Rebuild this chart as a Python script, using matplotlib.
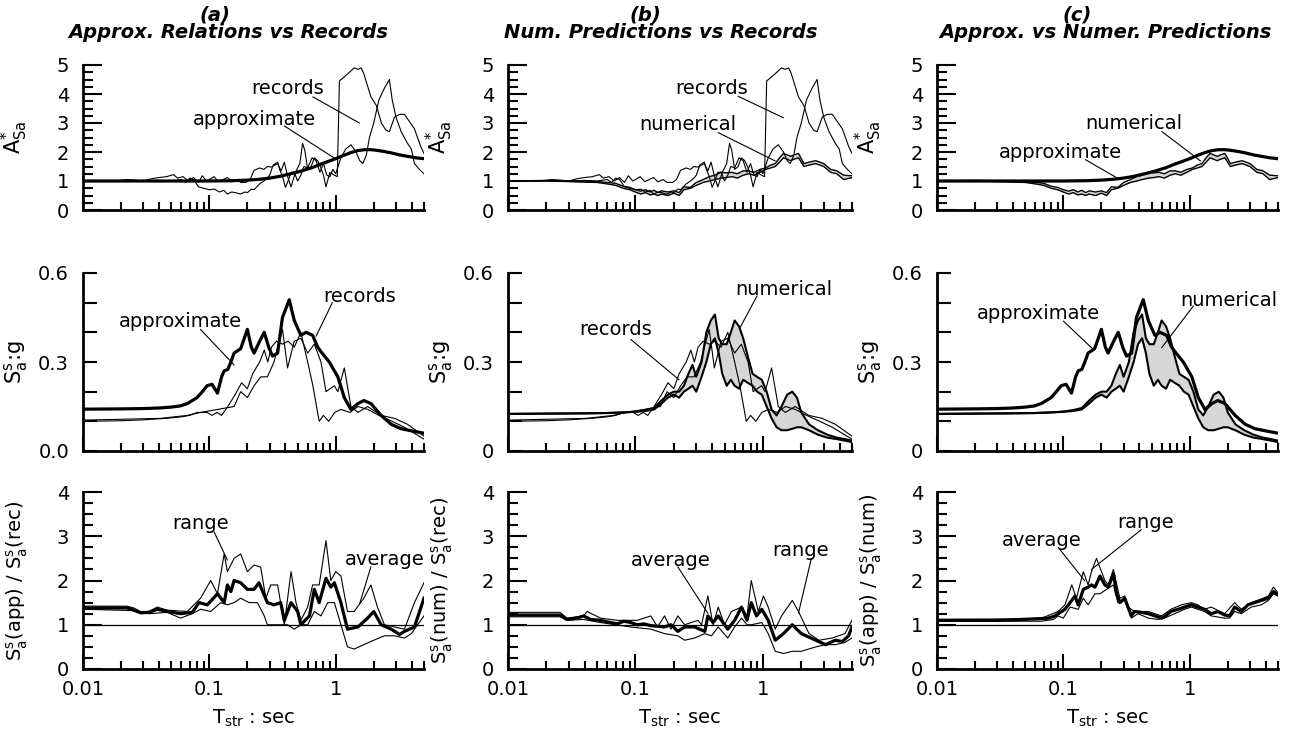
import matplotlib
matplotlib.use("Agg")
import matplotlib.pyplot as plt
from matplotlib.ticker import FixedLocator, NullFormatter, FixedFormatter

plt.rcParams["font.family"] = "DejaVu Sans"
plt.rcParams["mathtext.fontset"] = "dejavusans"

# ---------------- data ----------------
# top row: amplification A*_Sa
T_rec1_amp = [0.01, 0.018, 0.022, 0.026, 0.03, 0.035, 0.04, 0.046, 0.052, 0.056,
              0.062, 0.068, 0.075, 0.082, 0.088, 0.095, 0.1, 0.109, 0.118, 0.128,
              0.139, 0.15, 0.165, 0.177, 0.195, 0.21, 0.226, 0.25, 0.27, 0.288,
              0.31, 0.33, 0.347, 0.37, 0.392, 0.42, 0.443, 0.48, 0.52, 0.547,
              0.57, 0.6, 0.64, 0.677, 0.72, 0.765, 0.8, 0.838, 0.9, 0.976,
              1.03, 1.07, 1.25, 1.4, 1.5, 1.59, 1.67, 1.9, 2.1, 2.3,
              2.5, 2.66, 2.92, 3.2, 3.5, 4.2, 4.7, 5.0]
A_rec1 = [1.0, 1.0, 1.05, 1.03, 1.0, 1.08, 1.12, 1.15, 1.22, 1.1,
          1.15, 1.0, 1.12, 0.95, 1.18, 1.0, 1.05, 1.15, 0.98, 1.05,
          1.12, 0.97, 1.05, 0.95, 0.95, 1.05, 1.37, 1.45, 1.4, 1.5,
          1.48, 1.55, 1.6, 1.35, 1.65, 1.1, 0.8, 1.3, 1.6, 2.3,
          2.05, 1.4, 1.5, 1.8, 1.7, 1.45, 1.2, 0.8, 1.3, 1.2,
          1.15, 4.45, 4.7, 4.9, 4.85, 4.9, 4.7, 3.9, 3.6, 3.0,
          2.75, 2.7, 3.2, 3.3, 3.3, 2.8, 2.2, 1.95]

T_rec2_amp = [0.01, 0.02, 0.03, 0.04, 0.05, 0.06, 0.065, 0.07, 0.075, 0.082,
              0.09, 0.1, 0.11, 0.12, 0.13, 0.139, 0.15, 0.16, 0.177, 0.19,
              0.2, 0.215, 0.226, 0.25, 0.27, 0.288, 0.3, 0.32, 0.347, 0.36,
              0.38, 0.4, 0.42, 0.443, 0.47, 0.5, 0.53, 0.56, 0.6, 0.65,
              0.7, 0.75, 0.8, 0.85, 0.9, 0.95, 1.0, 1.1, 1.2, 1.32,
              1.45, 1.55, 1.64, 1.75, 1.85, 2.0, 2.2, 2.43, 2.66, 2.8,
              3.0, 3.3, 3.7, 3.97, 4.2, 4.6, 5.0]
A_rec2 = [1.0, 1.0, 1.0, 1.02, 1.0, 1.05, 0.95, 1.1, 1.05, 0.8,
          0.75, 0.7, 0.72, 0.62, 0.68, 0.55, 0.62, 0.6, 0.55, 0.62,
          0.6, 0.72, 0.7, 0.9, 1.0, 1.1, 1.2, 1.55, 1.65, 1.4,
          1.15, 0.78, 1.0, 1.3, 1.3, 1.0, 1.2, 1.5, 1.45, 1.8,
          1.7, 1.3, 1.6, 1.2, 1.15, 1.4, 1.25, 1.8, 2.1, 2.25,
          2.0, 1.7, 1.6, 1.9, 2.5, 3.0, 3.8, 4.2, 4.5, 3.8,
          3.2, 2.7, 2.3, 2.1, 1.6, 1.4, 1.25]

T_app_amp = [0.01, 0.05, 0.1, 0.15, 0.2, 0.25, 0.3, 0.36, 0.45, 0.53, 0.65, 0.76, 0.88,
             1.0, 1.15, 1.32, 1.5, 1.7, 1.9, 2.1, 2.4, 2.75, 3.2, 3.7, 4.3, 5.0]
A_app = [1.0, 1.0, 1.0, 1.01, 1.03, 1.06, 1.1, 1.16, 1.26, 1.34, 1.46, 1.58, 1.68,
         1.77, 1.88, 1.98, 2.05, 2.08, 2.08, 2.06, 2.02, 1.97, 1.9, 1.85, 1.8, 1.77]

T_num_amp = [0.01, 0.02, 0.03, 0.04, 0.05, 0.06, 0.07, 0.08, 0.09, 0.1,
             0.11, 0.12, 0.13, 0.14, 0.15, 0.16, 0.18, 0.2, 0.22, 0.24,
             0.27, 0.3, 0.34, 0.38, 0.42, 0.47, 0.52, 0.57, 0.63, 0.7,
             0.77, 0.85, 0.95, 1.05, 1.15, 1.25, 1.35, 1.45, 1.55, 1.65,
             1.75, 1.9, 2.1, 2.3, 2.6, 3.0, 3.4, 3.8, 4.3, 5.0]
A_num_lo = [1.0, 1.0, 0.98, 0.96, 0.95, 0.9, 0.85, 0.75, 0.7, 0.62,
            0.55, 0.6, 0.52, 0.55, 0.5, 0.55, 0.5, 0.58, 0.5, 0.7,
            0.75, 0.85, 0.95, 1.0, 1.05, 1.1, 1.12, 1.15, 1.1, 1.2,
            1.25, 1.2, 1.3, 1.4, 1.45, 1.5, 1.65, 1.8, 1.75, 1.7,
            1.75, 1.8, 1.5, 1.55, 1.6, 1.5, 1.3, 1.25, 1.05, 1.12]
A_num_hi = [1.0, 1.02, 1.0, 1.0, 0.98, 0.95, 0.92, 0.82, 0.78, 0.7,
            0.65, 0.7, 0.62, 0.68, 0.6, 0.66, 0.62, 0.66, 0.6, 0.8,
            0.78, 0.95, 1.05, 1.15, 1.2, 1.3, 1.28, 1.3, 1.25, 1.35,
            1.35, 1.3, 1.4, 1.45, 1.55, 1.6, 1.8, 1.95, 1.9, 1.85,
            1.9, 1.95, 1.6, 1.65, 1.7, 1.6, 1.4, 1.35, 1.2, 1.18]

# middle row: spectral acceleration Sa:g
T_rec1_sa = [0.01, 0.0252, 0.041, 0.067, 0.085, 0.116, 0.157, 0.177, 0.2, 0.226,
             0.255, 0.288, 0.325, 0.347, 0.379, 0.416, 0.47, 0.53, 0.6, 0.677,
             0.765, 0.838, 0.976, 1.04, 1.17, 1.32, 1.5, 1.79, 2.29, 2.92, 3.7, 5.0]
S_rec1 = [0.104, 0.108, 0.11, 0.12, 0.13, 0.14, 0.15, 0.2, 0.18, 0.22,
          0.25, 0.25, 0.3, 0.35, 0.41, 0.28, 0.37, 0.38, 0.33, 0.36,
          0.3, 0.2, 0.22, 0.2, 0.28, 0.15, 0.13, 0.15, 0.12, 0.11, 0.09, 0.05]

T_rec2_sa = [0.01, 0.02, 0.03, 0.045, 0.06, 0.07, 0.08, 0.096, 0.105, 0.115,
             0.125, 0.14, 0.16, 0.18, 0.2, 0.22, 0.25, 0.272, 0.29, 0.31,
             0.34, 0.38, 0.42, 0.47, 0.53, 0.6, 0.66, 0.74, 0.8, 0.88,
             0.98, 1.1, 1.3, 1.5, 1.8, 2.2, 2.8, 3.5, 5.0]
S_rec2 = [0.10, 0.102, 0.105, 0.11, 0.115, 0.12, 0.13, 0.13, 0.12, 0.13,
          0.12, 0.15, 0.19, 0.23, 0.21, 0.26, 0.30, 0.34, 0.30, 0.35,
          0.37, 0.36, 0.37, 0.35, 0.40, 0.30, 0.22, 0.10, 0.12, 0.10,
          0.13, 0.14, 0.13, 0.15, 0.14, 0.12, 0.10, 0.08, 0.04]

T_app_sa = [0.01, 0.02, 0.03, 0.04, 0.05, 0.059, 0.067, 0.08, 0.088, 0.096,
            0.105, 0.116, 0.125, 0.131, 0.14, 0.148, 0.157, 0.177, 0.2, 0.215,
            0.226, 0.25, 0.272, 0.295, 0.316, 0.347, 0.379, 0.429, 0.47, 0.53,
            0.582, 0.657, 0.72, 0.78, 0.89, 1.04, 1.17, 1.32, 1.5, 1.67,
            1.9, 2.29, 2.75, 3.3, 3.97, 5.0]
S_app = [0.141, 0.142, 0.143, 0.145, 0.148, 0.152, 0.16, 0.18, 0.2, 0.22,
         0.225, 0.195, 0.25, 0.27, 0.275, 0.3, 0.33, 0.345, 0.41, 0.35,
         0.33, 0.37, 0.40, 0.35, 0.32, 0.33, 0.45, 0.51, 0.44, 0.39,
         0.40, 0.39, 0.35, 0.33, 0.30, 0.25, 0.18, 0.14, 0.16, 0.17,
         0.16, 0.12, 0.09, 0.075, 0.068, 0.06]

T_num_sa = [0.01, 0.02, 0.04, 0.06, 0.08, 0.1, 0.12, 0.14, 0.16, 0.18,
            0.2, 0.22, 0.24, 0.26, 0.28, 0.3, 0.33, 0.36, 0.39, 0.42,
            0.45, 0.48, 0.52, 0.56, 0.6, 0.65, 0.7, 0.76, 0.83, 0.9,
            0.98, 1.07, 1.17, 1.28, 1.4, 1.55, 1.7, 1.85, 2.0, 2.3,
            2.7, 3.2, 3.8, 4.4, 5.0]
S_num_lo = [0.125, 0.126, 0.127, 0.128, 0.13, 0.132, 0.135, 0.14, 0.16, 0.18,
            0.19, 0.18, 0.2, 0.21, 0.22, 0.2, 0.25, 0.3, 0.36, 0.38,
            0.33, 0.26, 0.22, 0.24, 0.22, 0.21, 0.24, 0.23, 0.22, 0.2,
            0.19, 0.15, 0.11, 0.08, 0.07, 0.07, 0.075, 0.08, 0.08, 0.07,
            0.055, 0.045, 0.04, 0.035, 0.03]
S_num_hi = [0.125, 0.126, 0.127, 0.128, 0.13, 0.133, 0.138, 0.145, 0.17, 0.19,
            0.2, 0.2, 0.22, 0.26, 0.29, 0.25, 0.3, 0.4, 0.44, 0.46,
            0.38, 0.36, 0.36, 0.40, 0.44, 0.42, 0.38, 0.32, 0.26, 0.25,
            0.24, 0.2, 0.14, 0.12, 0.15, 0.19, 0.2, 0.18, 0.13, 0.09,
            0.07, 0.055, 0.045, 0.04, 0.035]

# bottom row: ratios (average and range)
T_avg_a = [0.01, 0.0223, 0.0252, 0.0285, 0.0332, 0.0387, 0.0464, 0.0592, 0.0733, 0.0828,
           0.0964, 0.116, 0.131, 0.139, 0.148, 0.157, 0.177, 0.2, 0.226, 0.247,
           0.288, 0.325, 0.367, 0.392, 0.443, 0.5, 0.53, 0.62, 0.677, 0.74,
           0.838, 0.915, 0.976, 1.1, 1.24, 1.5, 1.79, 2.0, 2.29, 2.75,
           3.2, 3.5, 4.2, 5.0]
R_avg_a = [1.38, 1.38, 1.33, 1.27, 1.28, 1.35, 1.3, 1.25, 1.28, 1.5,
           1.45, 1.7, 1.5, 1.9, 1.75, 2.0, 1.95, 1.8, 1.8, 1.95,
           1.5, 1.45, 1.5, 1.1, 1.5, 1.3, 1.0, 1.2, 1.8, 1.5,
           2.05, 1.85, 1.95, 1.5, 0.9, 0.95, 1.15, 1.3, 1.0, 0.9,
           0.78, 0.85, 0.95, 1.6]
T_hi_a = [0.01, 0.0223, 0.0252, 0.0285, 0.0332, 0.0387, 0.0464, 0.0669, 0.0852, 0.1025,
          0.116, 0.131, 0.139, 0.157, 0.177, 0.2, 0.226, 0.255, 0.28, 0.306,
          0.347, 0.392, 0.443, 0.485, 0.53, 0.6, 0.657, 0.74, 0.838, 0.915,
          1.0, 1.1, 1.24, 1.4, 1.67, 1.9, 2.14, 2.43, 2.92, 3.5, 4.2, 5.0]
R_hi_a = [1.42, 1.42, 1.38, 1.3, 1.3, 1.4, 1.33, 1.3, 1.6, 2.0,
          1.7, 2.6, 2.2, 2.5, 2.6, 2.2, 2.35, 2.3, 1.6, 1.9,
          1.9, 1.0, 2.2, 1.5, 1.1, 1.4, 1.9, 1.9, 2.9, 2.0,
          2.2, 2.1, 1.3, 1.3, 1.6, 1.9, 1.4, 1.0, 0.95, 0.9, 1.5, 1.95]
T_lo_a = [0.01, 0.0252, 0.0332, 0.0464, 0.0592, 0.0733, 0.0852, 0.1025, 0.123, 0.139,
          0.157, 0.177, 0.206, 0.24, 0.272, 0.288, 0.347, 0.416, 0.47, 0.53,
          0.6, 0.677, 0.765, 0.865, 0.976, 1.1, 1.24, 1.4, 1.67, 2.0,
          2.43, 2.92, 3.5, 3.97, 4.45, 5.0]
R_lo_a = [1.35, 1.32, 1.25, 1.28, 1.15, 1.25, 1.35, 1.3, 1.5, 1.45,
          1.5, 1.6, 1.5, 1.5, 1.2, 1.0, 1.0, 1.0, 0.9, 1.0,
          1.0, 1.3, 1.2, 1.5, 1.5, 1.0, 0.5, 0.45, 0.55, 0.65,
          0.75, 0.75, 0.7, 0.8, 1.0, 1.2]

T_avg_b = [0.01, 0.0256, 0.029, 0.0347, 0.0392, 0.0443, 0.0532, 0.0637, 0.072, 0.0813,
           0.0916, 0.1035, 0.117, 0.132, 0.169, 0.19, 0.215, 0.243, 0.291, 0.35,
           0.37, 0.406, 0.446, 0.53, 0.6, 0.68, 0.75, 0.81, 0.89, 0.98,
           1.1, 1.25, 1.45, 1.7, 2.0, 2.6, 3.1, 3.7, 4.2, 4.7, 5.0]
R_avg_b = [1.22, 1.22, 1.12, 1.15, 1.2, 1.12, 1.1, 1.05, 1.02, 1.08,
           1.05, 1.0, 1.02, 0.98, 0.95, 1.0, 0.85, 0.95, 0.95, 0.85,
           1.2, 1.05, 1.2, 0.9, 1.1, 1.4, 1.1, 1.5, 1.2, 1.35,
           1.1, 0.65, 0.8, 1.0, 0.8, 0.65, 0.55, 0.65, 0.62, 0.75, 0.95]
T_hi_b = [0.01, 0.0256, 0.029, 0.0392, 0.0417, 0.0532, 0.072, 0.1035, 0.132, 0.149,
          0.169, 0.19, 0.215, 0.243, 0.309, 0.33, 0.37, 0.406, 0.446, 0.5,
          0.566, 0.68, 0.75, 0.81, 0.92, 1.01, 1.1, 1.25, 1.4, 1.7,
          1.9, 2.3, 2.75, 3.5, 4.4, 5.0]
R_hi_b = [1.28, 1.28, 1.15, 1.2, 1.3, 1.15, 1.1, 1.1, 1.2, 0.95,
          1.2, 0.9, 1.2, 1.0, 1.1, 1.0, 1.65, 1.0, 1.4, 1.0,
          1.3, 1.4, 1.2, 2.0, 1.3, 1.65, 1.4, 0.9, 1.2, 1.55,
          1.3, 0.8, 0.65, 0.7, 0.8, 1.1]
T_lo_b = [0.01, 0.0256, 0.029, 0.0392, 0.0532, 0.0916, 0.132, 0.169, 0.215, 0.243,
          0.291, 0.35, 0.395, 0.446, 0.53, 0.6, 0.68, 0.75, 0.81, 0.98,
          1.1, 1.25, 1.45, 1.7, 2.0, 2.6, 3.1, 3.7, 4.4, 5.0]
R_lo_b = [1.18, 1.18, 1.1, 1.12, 1.05, 0.95, 0.9, 0.8, 0.75, 0.65,
          0.7, 0.8, 0.75, 0.95, 0.7, 0.95, 1.15, 1.0, 1.0, 1.05,
          0.8, 0.4, 0.35, 0.4, 0.4, 0.5, 0.55, 0.55, 0.6, 0.7]

T_avg_c = [0.01, 0.0289, 0.0469, 0.0675, 0.0761, 0.0859, 0.103, 0.113, 0.1237, 0.131,
           0.144, 0.157, 0.167, 0.178, 0.195, 0.213, 0.227, 0.249, 0.264, 0.28,
           0.306, 0.325, 0.345, 0.366, 0.415, 0.47, 0.53, 0.6, 0.63, 0.71,
           0.81, 0.91, 1.03, 1.16, 1.31, 1.48, 1.67, 1.89, 2.07, 2.27,
           2.56, 2.89, 3.26, 3.68, 4.2, 4.6, 5.0]
R_avg_c = [1.1, 1.1, 1.12, 1.14, 1.15, 1.2, 1.35, 1.5, 1.65, 1.45,
           1.8, 1.85, 1.9, 1.85, 2.1, 1.9, 1.85, 2.15, 1.7, 1.5,
           1.6, 1.4, 1.2, 1.3, 1.28, 1.25, 1.2, 1.15, 1.18, 1.3,
           1.35, 1.4, 1.45, 1.4, 1.35, 1.25, 1.3, 1.22, 1.2, 1.4,
           1.3, 1.45, 1.5, 1.55, 1.6, 1.75, 1.68]
T_hi_c = [0.01, 0.0469, 0.0675, 0.091, 0.103, 0.1166, 0.127, 0.144, 0.157, 0.167,
          0.183, 0.213, 0.227, 0.249, 0.28, 0.306, 0.325, 0.366, 0.47, 0.6,
          0.71, 0.86, 1.03, 1.16, 1.31, 1.48, 1.89, 2.27, 2.56, 3.07,
          3.68, 4.2, 4.6, 5.0]
R_hi_c = [1.12, 1.13, 1.15, 1.3, 1.45, 1.9, 1.6, 2.2, 1.9, 2.2,
          2.5, 2.0, 1.9, 2.25, 1.6, 1.65, 1.4, 1.3, 1.3, 1.2,
          1.35, 1.45, 1.5, 1.45, 1.35, 1.4, 1.25, 1.5, 1.35, 1.5,
          1.58, 1.65, 1.85, 1.72]
T_lo_c = [0.01, 0.0469, 0.0675, 0.0834, 0.091, 0.1, 0.113, 0.131, 0.144, 0.157,
          0.178, 0.195, 0.22, 0.249, 0.27, 0.306, 0.345, 0.39, 0.47, 0.56,
          0.63, 0.76, 0.91, 1.03, 1.16, 1.31, 1.48, 1.89, 2.07, 2.27,
          2.56, 3.07, 3.68, 4.2, 4.6, 5.0]
R_lo_c = [1.08, 1.08, 1.08, 1.12, 1.2, 1.15, 1.4, 1.35, 1.6, 1.45,
          1.7, 1.7, 1.8, 1.9, 1.5, 1.55, 1.15, 1.25, 1.15, 1.12,
          1.15, 1.25, 1.35, 1.4, 1.35, 1.3, 1.2, 1.15, 1.15, 1.3,
          1.25, 1.4, 1.45, 1.55, 1.7, 1.65]

# titles and labels
COL_TAGS = ["(a)", "(b)", "(c)"]
COL_TITLES = ["Approx. Relations vs Records", "Num. Predictions vs Records",
              "Approx. vs Numer. Predictions"]
RATIO_LABELS = [r"$\mathrm{S_a^s}$(app) / $\mathrm{S_a^s}$(rec)",
                r"$\mathrm{S_a^s}$(num) / $\mathrm{S_a^s}$(rec)",
                r"$\mathrm{S_a^s}$(app) / $\mathrm{S_a^s}$(num)"]

# annotation: (text, text position, leader start, leader end)
ANNOT = {
    (0, 0): [("records", (0.42, 4.19), (0.66, 3.9), (1.54, 3.0)),
             ("approximate", (0.226, 3.13), (0.392, 2.9), (0.976, 1.79))],
    (0, 1): [("records", (0.395, 4.19), (0.64, 3.92), (1.45, 3.18)),
             ("numerical", (0.258, 2.94), (0.445, 2.67), (1.25, 1.69))],
    (0, 2): [("numerical", (0.359, 2.99), (0.6, 2.71), (1.22, 1.69)),
             ("approximate", (0.094, 1.97), (0.149, 1.74), (0.27, 1.09))],
    (1, 0): [("approximate", (0.059, 0.438), (0.085, 0.41), (0.157, 0.29)),
             ("records", (1.54, 0.52), (0.94, 0.5), (0.70, 0.387))],
    (1, 1): [("numerical", (1.45, 0.546), (0.90, 0.523), (0.66, 0.415)),
             ("records", (0.07, 0.408), (0.092, 0.376), (0.22, 0.24))],
    (1, 2): [("approximate", (0.063, 0.464), (0.1, 0.438), (0.173, 0.342)),
             ("numerical", (2.04, 0.506), (1.07, 0.489), (0.6, 0.348))],
    (2, 0): [("range", (0.085, 3.29), (0.109, 3.1), (0.139, 2.46)),
             ("average", (2.43, 2.47), (1.9, 2.31), (1.55, 1.48))],
    (2, 1): [("average", (0.19, 2.46), (0.215, 2.31), (0.37, 1.26)),
             ("range", (1.97, 2.68), (2.4, 2.5), (1.9, 1.26))],
    (2, 2): [("range", (0.45, 3.3), (0.415, 3.15), (0.167, 2.25)),
             ("average", (0.0675, 2.91), (0.091, 2.75), (0.148, 1.99))],
}

# ---------------- layout ----------------
W, H = 1295, 733
COL_X = [(83, 424), (508, 852), (937, 1278)]
ROW_Y = [(65, 210), (273, 451), (492, 669)]
TAG_X = [215, 645, 1077]
TITLE_X = [228, 661, 1105]

THICK = 2.3
THIN = 0.8
BAND = "#d6d6d6"

fig = plt.figure(figsize=(W / 100, H / 100), dpi=100)

axes = {}
for r, (yt, yb) in enumerate(ROW_Y):
    for c, (xl, xr) in enumerate(COL_X):
        ax = fig.add_axes([xl / W, 1 - yb / H, (xr - xl) / W, (yb - yt) / H])
        axes[(r, c)] = ax


def style(ax, row, col):
    ax.set_xscale("log")
    ax.set_xlim(0.01, 5)
    for s in ("top", "right"):
        ax.spines[s].set_visible(False)
    for s in ("left", "bottom"):
        ax.spines[s].set_linewidth(2.0)
    ax.xaxis.set_major_locator(FixedLocator([0.01, 0.1, 1]))
    minors = [m * d for d in (0.01, 0.1, 1) for m in range(2, 10) if m * d <= 5]
    ax.xaxis.set_minor_locator(FixedLocator(minors))
    ax.xaxis.set_minor_formatter(NullFormatter())
    if row == 2:
        ax.xaxis.set_major_formatter(FixedFormatter(["0.01", "0.1", "1"]))
        ax.set_xlabel(r"$\mathrm{T_{str}}$ : sec", fontsize=14, labelpad=6)
    else:
        ax.xaxis.set_major_formatter(NullFormatter())
    ax.tick_params(axis="x", which="major", direction="in", length=11, width=1.5,
                   labelsize=14, pad=8)
    ax.tick_params(axis="x", which="minor", direction="in", length=6, width=1.5)

    if row == 0:
        ax.set_ylim(0, 5)
        ax.yaxis.set_major_locator(FixedLocator([0, 1, 2, 3, 4, 5]))
        ax.yaxis.set_minor_locator(FixedLocator([k * 0.25 for k in range(21)]))
        ax.set_ylabel(r"$\mathrm{A^{*}_{Sa}}$", fontsize=15)
        ax.tick_params(axis="y", which="major", length=14)
        ax.tick_params(axis="y", which="minor", length=7)
    elif row == 1:
        ax.set_ylim(0, 0.6)
        ax.yaxis.set_major_locator(FixedLocator([0, 0.3, 0.6]))
        ax.yaxis.set_minor_locator(FixedLocator([0.1, 0.2, 0.4, 0.5]))
        labs = ["0.0", "0.3", "0.6"] if col == 0 else ["0", "0.3", "0.6"]
        ax.yaxis.set_major_formatter(FixedFormatter(labs))
        ax.set_ylabel(r"$\mathrm{S_a^s}$:g", fontsize=15)
        ax.tick_params(axis="y", which="both", length=10)
    else:
        ax.set_ylim(0, 4)
        ax.yaxis.set_major_locator(FixedLocator([0, 1, 2, 3, 4]))
        ax.yaxis.set_minor_locator(FixedLocator([k * 0.25 for k in range(17)]))
        ax.set_ylabel(RATIO_LABELS[col], fontsize=14)
        ax.tick_params(axis="y", which="major", length=14)
        ax.tick_params(axis="y", which="minor", length=7)
    ax.tick_params(axis="y", which="both", direction="in", width=1.5,
                   labelsize=14, pad=10)
    ax.yaxis.set_label_coords(-0.155, 0.5)


def band(ax, T, lo, hi, lw):
    ax.fill_between(T, lo, hi, color=BAND, lw=0)
    ax.plot(T, lo, color="k", lw=lw)
    ax.plot(T, hi, color="k", lw=lw)


# top row
ax = axes[(0, 0)]
ax.plot(T_rec1_amp, A_rec1, color="k", lw=THIN)
ax.plot(T_rec2_amp, A_rec2, color="k", lw=THIN)
ax.plot(T_app_amp, A_app, color="k", lw=THICK)

ax = axes[(0, 1)]
band(ax, T_num_amp, A_num_lo, A_num_hi, 1.0)
ax.plot(T_rec1_amp, A_rec1, color="k", lw=THIN)
ax.plot(T_rec2_amp, A_rec2, color="k", lw=THIN)

ax = axes[(0, 2)]
band(ax, T_num_amp, A_num_lo, A_num_hi, 1.0)
ax.plot(T_app_amp, A_app, color="k", lw=THICK)

# middle row
ax = axes[(1, 0)]
ax.plot(T_rec1_sa, S_rec1, color="k", lw=THIN)
ax.plot(T_rec2_sa, S_rec2, color="k", lw=THIN)
ax.plot(T_app_sa, S_app, color="k", lw=THICK)

ax = axes[(1, 1)]
band(ax, T_num_sa, S_num_lo, S_num_hi, 1.5)
ax.plot(T_rec1_sa, S_rec1, color="k", lw=THIN)
ax.plot(T_rec2_sa, S_rec2, color="k", lw=THIN)

ax = axes[(1, 2)]
band(ax, T_num_sa, S_num_lo, S_num_hi, 1.5)
ax.plot(T_app_sa, S_app, color="k", lw=THICK)

# bottom row
ratio_sets = [(T_avg_a, R_avg_a, T_hi_a, R_hi_a, T_lo_a, R_lo_a),
              (T_avg_b, R_avg_b, T_hi_b, R_hi_b, T_lo_b, R_lo_b),
              (T_avg_c, R_avg_c, T_hi_c, R_hi_c, T_lo_c, R_lo_c)]
for c, (ta, ra, th, rh, tl, rl) in enumerate(ratio_sets):
    ax = axes[(2, c)]
    ax.axhline(1, color="k", lw=0.9)
    ax.plot(th, rh, color="k", lw=THIN)
    ax.plot(tl, rl, color="k", lw=THIN)
    ax.plot(ta, ra, color="k", lw=THICK)

for (r, c), ax in axes.items():
    style(ax, r, c)
    for txt, tpos, p0, p1 in ANNOT[(r, c)]:
        ax.text(tpos[0], tpos[1], txt, fontsize=14, ha="center", va="center")
        ax.annotate("", xy=p1, xytext=p0,
                    arrowprops=dict(arrowstyle="-", lw=0.8, color="k",
                                    shrinkA=0, shrinkB=0))

for c in range(3):
    fig.text(TAG_X[c] / W, 1 - 15 / H, COL_TAGS[c], fontsize=14,
             fontweight="bold", fontstyle="italic", ha="center", va="center")
    fig.text(TITLE_X[c] / W, 1 - 33 / H, COL_TITLES[c], fontsize=14,
             fontweight="bold", fontstyle="italic", ha="center", va="center")

fig.savefig("out.png", dpi=100)
